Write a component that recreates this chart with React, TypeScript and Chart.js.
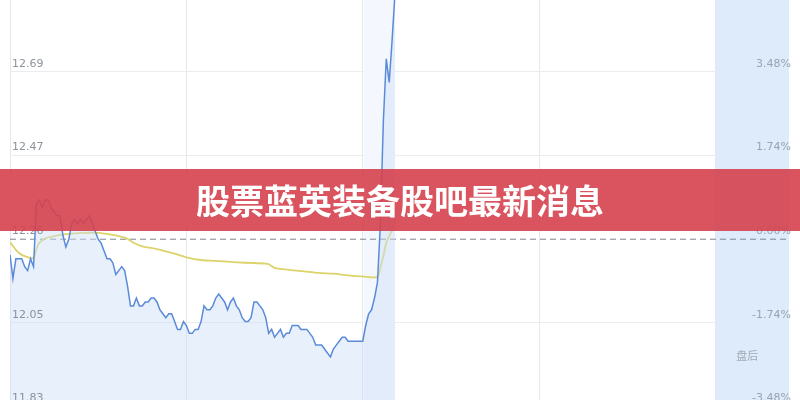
import React, { useEffect, useRef } from "react";
import { Chart, registerables } from "chart.js";

Chart.register(...registerables);

// ---- data ----
const titleText = "股票蓝英装备股吧最新消息";
const afterHoursLabel = "盘后";
const basePrice = 12.26;
const pctTicks = [-3.48, -1.74, 0, 1.74, 3.48];
const priceTickLabels = ["11.83", "12.05", "12.26", "12.47", "12.69"];
const pctTickLabels = ["-3.48%", "-1.74%", "0.00%", "1.74%", "3.48%"];
const timeGridMinutes = [0, 60, 120, 180, 240];
const afternoonStart = 120;
const sessionEnd = 240;
const afterHoursEnd = 265;
const yMin = 11.799;
const yMax = 12.87;

// price per minute (index 0 = 9:30)
const priceValues = [
  12.22, 12.16, 12.21, 12.21, 12.21, 12.19, 12.18, 12.21, 12.19, 12.35,
  12.36, 12.34, 12.36, 12.36, 12.34, 12.33, 12.32, 12.32, 12.27, 12.24,
  12.26, 12.3, 12.31, 12.3, 12.31, 12.3, 12.31, 12.32, 12.3, 12.28,
  12.26, 12.25, 12.23, 12.21, 12.21, 12.2, 12.17, 12.18, 12.19, 12.18,
  12.14, 12.09, 12.09, 12.11, 12.09, 12.09, 12.1, 12.1, 12.11, 12.11,
  12.1, 12.08, 12.07, 12.06, 12.07, 12.07, 12.05, 12.03, 12.03, 12.05,
  12.04, 12.02, 12.02, 12.03, 12.03, 12.05, 12.09, 12.08, 12.08, 12.09,
  12.11, 12.12, 12.11, 12.1, 12.08, 12.1, 12.11, 12.09, 12.08, 12.06,
  12.05, 12.05, 12.06, 12.1, 12.1, 12.09, 12.08, 12.06, 12.02, 12.03,
  12.01, 12.02, 12.03, 12.01, 12.02, 12.02, 12.04, 12.04, 12.04, 12.03,
  12.03, 12.03, 12.02, 12.01, 11.99, 11.99, 11.99, 11.98, 11.97, 11.96,
  11.98, 11.99, 12.0, 12.01, 12.01, 12.0, 12.0, 12.0, 12.0, 12.0,
  12.0, 12.04, 12.07, 12.08, 12.11, 12.15, 12.3, 12.56, 12.72, 12.66,
  12.77, 12.89,
];

// average price line (minute index, value)
const avgMinutes = [
  0, 2, 4, 7, 8, 9, 10, 12, 14, 17, 25, 30, 35, 38, 40, 42, 45, 50, 53, 56,
  60, 65, 70, 75, 80, 87, 88, 90, 95, 100, 105, 110, 115, 120, 125, 126, 127,
  128, 129, 130, 131,
];
const avgValues = [
  12.253, 12.233, 12.22, 12.212, 12.212, 12.235, 12.251, 12.262, 12.266, 12.271,
  12.276, 12.276, 12.271, 12.266, 12.261, 12.251, 12.242, 12.235, 12.229, 12.223,
  12.214, 12.207, 12.205, 12.202, 12.2, 12.198, 12.196, 12.187, 12.182, 12.178,
  12.174, 12.172, 12.168, 12.165, 12.164, 12.189, 12.217, 12.251, 12.268, 12.284,
  12.304,
];

const bandPlugin = {
  id: "bands",
  beforeDatasetsDraw(chart: any) {
    const { ctx, chartArea, scales } = chart;
    const x = scales.x;
    const h = chartArea.bottom - chartArea.top;
    ctx.save();
    const f0 = x.getPixelForValue(afternoonStart) + 1;
    const f1 = x.getPixelForValue(priceValues.length - 1);
    ctx.fillStyle = "#f4f8fe";
    ctx.fillRect(f0, chartArea.top, f1 - f0, h);
    const a0 = x.getPixelForValue(sessionEnd);
    const a1 = x.getPixelForValue(afterHoursEnd);
    ctx.fillStyle = "#deebfb";
    ctx.fillRect(a0, chartArea.top, a1 - a0, h);
    ctx.restore();
  },
  afterDatasetsDraw(chart: any) {
    const { ctx, chartArea, scales } = chart;
    const x = scales.x;
    const cx = (x.getPixelForValue(sessionEnd) + x.getPixelForValue(afterHoursEnd)) / 2;
    ctx.save();
    ctx.font = '11px "Noto Sans CJK SC"';
    ctx.fillStyle = "#a3abb8";
    ctx.textAlign = "center";
    ctx.textBaseline = "middle";
    ctx.fillText(afterHoursLabel, cx - 5, chartArea.bottom - 64);
    ctx.restore();
  },
};

const zeroFit = (scale: any) => {
  scale.width = 0;
  scale.paddingTop = 0;
  scale.paddingBottom = 0;
};

export default function App() {
  const ref = useRef<HTMLCanvasElement>(null);

  useEffect(() => {
    const pricePoints = priceValues.map((v, i) => ({ x: i, y: v }));
    const avgPoints = avgMinutes.map((m, k) => ({ x: m, y: avgValues[k] }));
    const basePoints = [
      { x: 0, y: basePrice },
      { x: afterHoursEnd, y: basePrice },
    ];
    const pctMin = (yMin / basePrice - 1) * 100;
    const pctMax = (yMax / basePrice - 1) * 100;
    const tickFont = { family: '"DejaVu Sans", sans-serif', size: 11 };

    const chart = new Chart(ref.current as HTMLCanvasElement, {
      type: "line",
      data: {
        datasets: [
          {
            data: pricePoints,
            borderColor: "#5a8bd8",
            borderWidth: 1.5,
            backgroundColor: "rgba(205,222,246,0.45)",
            fill: "start",
            pointRadius: 0,
            tension: 0,
            yAxisID: "y",
          },
          {
            data: avgPoints,
            borderColor: "#dcd36a",
            borderWidth: 1.8,
            fill: false,
            pointRadius: 0,
            tension: 0.3,
            yAxisID: "y",
          },
          {
            data: basePoints,
            borderColor: "#7f8690",
            borderWidth: 1,
            borderDash: [6, 4],
            fill: false,
            pointRadius: 0,
            yAxisID: "y",
          },
        ],
      },
      options: {
        animation: false,
        responsive: false,
        maintainAspectRatio: false,
        devicePixelRatio: 1,
        layout: { padding: { left: 10, right: 11, top: 0, bottom: 0 } },
        plugins: {
          legend: { display: false },
          tooltip: { enabled: false },
        },
        scales: {
          x: {
            type: "linear",
            min: 0,
            max: afterHoursEnd,
            afterBuildTicks: (s: any) => {
              s.ticks = timeGridMinutes.map((v) => ({ value: v }));
            },
            ticks: { display: false },
            grid: { color: "#e6e8eb", drawTicks: false, tickLength: 0 },
            border: { display: false },
          },
          y: {
            type: "linear",
            position: "left",
            min: yMin,
            max: yMax,
            afterBuildTicks: (s: any) => {
              s.ticks = pctTicks.map((p) => ({ value: basePrice * (1 + p / 100) }));
            },
            afterFit: zeroFit,
            ticks: {
              mirror: true,
              padding: 2,
              labelOffset: -8,
              z: 1,
              color: "#8d929a",
              font: tickFont,
              callback: (_v: any, i: number) => priceTickLabels[i],
            },
            grid: {
              color: (c: any) => (c.index === 2 ? "rgba(0,0,0,0)" : "#ebecee"),
              drawTicks: false,
              tickLength: 0,
            },
            border: { display: false },
          },
          y1: {
            type: "linear",
            position: "right",
            min: pctMin,
            max: pctMax,
            afterBuildTicks: (s: any) => {
              s.ticks = pctTicks.map((p) => ({ value: p }));
            },
            afterFit: zeroFit,
            ticks: {
              mirror: true,
              padding: 2,
              labelOffset: -8,
              z: 1,
              color: "#99a3b3",
              font: tickFont,
              callback: (_v: any, i: number) => pctTickLabels[i],
            },
            grid: { display: false, drawTicks: false, tickLength: 0 },
            border: { display: false },
          },
        },
      },
      plugins: [bandPlugin],
    } as any);

    return () => chart.destroy();
  }, []);

  return (
    <div
      style={{
        position: "fixed",
        left: 0,
        top: 0,
        width: 800,
        height: 400,
        overflow: "hidden",
        background: "#ffffff",
      }}
    >
      <canvas
        ref={ref}
        width={800}
        height={420}
        style={{ display: "block", width: 800, height: 420 }}
      />
      <div
        style={{
          position: "absolute",
          left: 0,
          top: 169,
          width: 800,
          height: 62,
          background: "rgba(213,65,77,0.9)",
          color: "#ffffff",
          fontFamily: '"Noto Sans CJK SC", sans-serif',
          fontWeight: 700,
          fontSize: 34,
          lineHeight: "62px",
          textAlign: "center",
          whiteSpace: "nowrap",
        }}
      >
        {titleText}
      </div>
    </div>
  );
}
